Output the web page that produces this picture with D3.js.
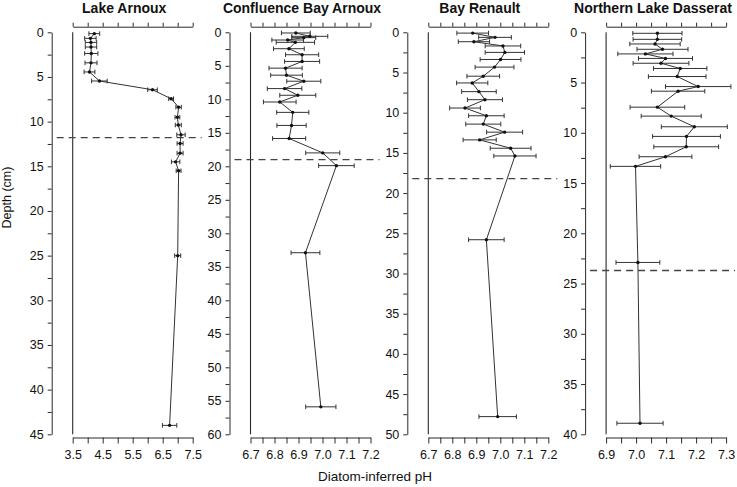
<!DOCTYPE html>
<html>
<head>
<meta charset="utf-8">
<script src="https://cdn.jsdelivr.net/npm/d3@7"></script>
<style>
  html, body { margin: 0; padding: 0; background: #fff; }
  svg { display: block; font-family: "Liberation Sans", Arial, sans-serif; }
</style>
</head>
<body>
<svg id="chart" width="737" height="487"></svg>
<script>
// ---------------- DATA ----------------
const titles = ["Lake Arnoux", "Confluence Bay Arnoux", "Bay Renault", "Northern Lake Dasserat"];

const arnouxDepth = [0.15, 0.68, 1.13, 1.65, 2.37, 3.42, 4.44, 5.45, 6.43, 7.44, 8.38, 9.51, 10.38, 11.47, 12.44, 13.53, 14.5, 15.5, 25.0, 44.0];
const arnouxPH    = [4.22, 4.09, 4.11, 4.11, 4.12, 4.11, 4.06, 4.39, 6.16, 6.78, 7.03, 6.99, 7.02, 7.11, 7.08, 7.08, 6.93, 7.03, 7.0, 6.73];
const arnouxErr   = [0.18, 0.19, 0.19, 0.19, 0.22, 0.2, 0.18, 0.26, 0.16, 0.08, 0.09, 0.08, 0.1, 0.14, 0.1, 0.1, 0.14, 0.08, 0.1, 0.24];

const confDepth = [0.1, 0.6, 0.8, 1.15, 1.5, 2.45, 3.35, 4.35, 5.35, 6.4, 7.3, 8.4, 9.4, 10.4, 11.95, 13.9, 15.85, 18.0, 19.9, 32.9, 55.9];
const confPH    = [6.889, 6.947, 6.922, 6.855, 6.887, 6.86, 6.915, 6.915, 6.846, 6.85, 6.922, 6.842, 6.897, 6.822, 6.876, 6.871, 6.861, 7.001, 7.058, 6.929, 6.993];
const confErr   = [0.06, 0.075, 0.05, 0.066, 0.08, 0.064, 0.069, 0.073, 0.069, 0.066, 0.071, 0.072, 0.075, 0.068, 0.067, 0.061, 0.069, 0.071, 0.074, 0.06, 0.063];

const renaultDepth = [0.1, 0.63, 1.17, 1.7, 2.5, 3.38, 4.33, 5.46, 6.3, 7.38, 8.38, 9.42, 10.38, 11.42, 12.42, 13.38, 14.42, 15.38, 25.8, 47.8];
const renaultPH    = [6.885, 6.978, 6.89, 7.011, 7.019, 7.001, 6.976, 6.929, 6.883, 6.911, 6.936, 6.853, 6.942, 6.929, 7.018, 6.914, 7.043, 7.061, 6.942, 6.989];
const renaultErr   = [0.066, 0.068, 0.065, 0.074, 0.082, 0.085, 0.081, 0.068, 0.065, 0.072, 0.073, 0.064, 0.074, 0.073, 0.075, 0.069, 0.085, 0.088, 0.074, 0.078];

const dasseratDepth = [0.1, 0.7, 1.16, 1.69, 2.15, 2.6, 3.08, 3.6, 4.4, 5.4, 5.86, 7.45, 8.34, 9.4, 10.36, 11.39, 12.38, 13.34, 22.9, 38.9];
const dasseratPH    = [7.071, 7.071, 7.063, 7.088, 7.031, 7.098, 7.083, 7.147, 7.137, 7.207, 7.14, 7.071, 7.117, 7.194, 7.168, 7.167, 7.098, 6.998, 7.006, 7.013];
const dasseratErr   = [0.082, 0.081, 0.084, 0.085, 0.092, 0.09, 0.093, 0.089, 0.096, 0.109, 0.089, 0.091, 0.1, 0.11, 0.113, 0.108, 0.088, 0.084, 0.073, 0.077];

const depthMax   = [45, 60, 50, 40];
const phMin      = [3.5, 6.7, 6.7, 6.9];
const phMax      = [7.5, 7.2, 7.2, 7.3];
const phTickStep = [0.5, 0.05, 0.05, 0.05];
const phLabelStep= [1.0, 0.1, 0.1, 0.1];
const dashedDepth = [11.8, 19.0, 18.2, 23.7];

const yTitle = "Depth (cm)";
const xTitle = "Diatom-inferred pH";

// ---------------- LAYOUT ----------------
const W = 737, H = 487;
const panelStart = 51.7, panelStep = 177.8;
const plotGap = 21, plotWidth = 120;
const yTop = 32.3, yBottom = 434.3;
const topAxisY = 26.7, bottomAxisY = 437.5;
const ink = "#2a2a2a";
const tickFont = 12.5;

const svg = d3.select("#chart");
svg.append("rect").attr("width", W).attr("height", H).attr("fill", "#fff");

const series = [
  {d: arnouxDepth, p: arnouxPH, e: arnouxErr},
  {d: confDepth, p: confPH, e: confErr},
  {d: renaultDepth, p: renaultPH, e: renaultErr},
  {d: dasseratDepth, p: dasseratPH, e: dasseratErr}
];

function rangeSteps(a, b, s) {
  const out = [];
  const n = Math.round((b - a) / s);
  for (let i = 0; i <= n; i++) out.push(+(a + i * s).toFixed(4));
  return out;
}

series.forEach((s, i) => {
  const axX = panelStart + i * panelStep;
  const x0 = axX + plotGap, x1 = x0 + plotWidth;
  const x = d3.scaleLinear().domain([phMin[i], phMax[i]]).range([x0, x1]);
  const y = d3.scaleLinear().domain([0, depthMax[i]]).range([yTop, yBottom]);
  const g = svg.append("g");

  // y axis
  const yTicks = rangeSteps(0, depthMax[i], 2.5);
  const yAxis = d3.axisLeft(y).tickValues(yTicks).tickSize(4).tickSizeOuter(0).tickPadding(4)
    .tickFormat(v => (Math.abs(v % 5) < 1e-6 ? d3.format("d")(v) : ""));
  const ya = g.append("g").attr("transform", `translate(${axX},0)`).call(yAxis);
  ya.selectAll("text").attr("font-size", tickFont).attr("fill", "#111").attr("font-family", "Liberation Sans, Arial, sans-serif");
  ya.selectAll("line,path").attr("stroke", ink);

  // x axes
  const xTicks = rangeSteps(phMin[i], phMax[i], phTickStep[i]);
  const labelSet = rangeSteps(phMin[i], phMax[i], phLabelStep[i]).map(v => v.toFixed(2));
  const xb = d3.axisBottom(x).tickValues(xTicks).tickSize(6).tickSizeOuter(0).tickPadding(7)
    .tickFormat(v => (labelSet.includes(v.toFixed(2)) ? d3.format(".1f")(v) : ""));
  const xbA = g.append("g").attr("transform", `translate(0,${bottomAxisY})`).call(xb);
  xbA.selectAll("text").attr("font-size", tickFont).attr("fill", "#111").attr("font-family", "Liberation Sans, Arial, sans-serif");
  xbA.selectAll("line,path").attr("stroke", ink);

  const xt = d3.axisTop(x).tickValues(xTicks).tickSize(4).tickSizeOuter(0).tickFormat("");
  const xtA = g.append("g").attr("transform", `translate(0,${topAxisY})`).call(xt);
  xtA.selectAll("line,path").attr("stroke", ink);

  // left reference line of the plot
  g.append("line").attr("x1", x(phMin[i])).attr("x2", x(phMin[i]))
    .attr("y1", y(0)).attr("y2", y(depthMax[i])).attr("stroke", ink).attr("stroke-width", 1.1);

  // dashed zone line
  g.append("line").attr("x1", axX + 5).attr("x2", Math.min(W, x1 + 9))
    .attr("y1", y(dashedDepth[i])).attr("y2", y(dashedDepth[i]))
    .attr("stroke", "#444").attr("stroke-width", 1.3).attr("stroke-dasharray", "7,5");

  const pts = s.d.map((d, k) => ({d, p: s.p[k], e: s.e[k]}));

  // error bars
  const eb = g.append("g").attr("stroke", "#333").attr("stroke-width", 1);
  pts.forEach(pt => {
    const yy = y(pt.d);
    eb.append("line").attr("x1", x(pt.p - pt.e)).attr("x2", x(pt.p + pt.e)).attr("y1", yy).attr("y2", yy);
    eb.append("line").attr("x1", x(pt.p - pt.e)).attr("x2", x(pt.p - pt.e)).attr("y1", yy - 2.3).attr("y2", yy + 2.3);
    eb.append("line").attr("x1", x(pt.p + pt.e)).attr("x2", x(pt.p + pt.e)).attr("y1", yy - 2.3).attr("y2", yy + 2.3);
  });

  // profile line
  g.append("path").datum(pts)
    .attr("d", d3.line().x(p => x(p.p)).y(p => y(p.d)))
    .attr("fill", "none").attr("stroke", "#333").attr("stroke-width", 1);

  // points
  g.selectAll("circle.pt").data(pts).enter().append("circle")
    .attr("cx", p => x(p.p)).attr("cy", p => y(p.d)).attr("r", 1.7).attr("fill", "#111");

  // title
  const t = g.append("text").text(titles[i])
    .attr("y", 13.3).attr("font-size", 14).attr("font-weight", "bold").attr("fill", "#111")
    .attr("text-anchor", "middle");
  const tw = t.node().getComputedTextLength();
  const cx = Math.min((axX + x1) / 2 + 2, W - tw / 2 - 5);
  t.attr("x", cx);
});

// axis titles
svg.append("text").text(yTitle)
  .attr("transform", "translate(11,197.5) rotate(-90)")
  .attr("text-anchor", "middle").attr("font-size", 12.5).attr("fill", "#111");
svg.append("text").text(xTitle)
  .attr("x", 375).attr("y", 481).attr("text-anchor", "middle")
  .attr("font-size", 13.5).attr("fill", "#111");
</script>
</body>
</html>
